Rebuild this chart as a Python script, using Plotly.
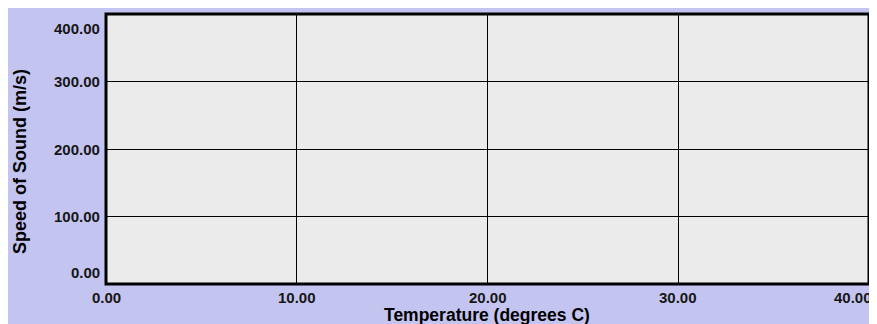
import plotly.graph_objects as go

# ---- data (empty chart: only axes) ----
x_ticks = [0, 10, 20, 30, 40]
x_tick_labels = ["0.00", "10.00", "20.00", "30.00", "40.00"]
y_ticks = [0, 100, 200, 300, 400]
y_tick_labels = ["0.00", "100.00", "200.00", "300.00", "400.00"]
x_title = "Temperature (degrees C)"
y_title = "Speed of Sound (m/s)"

# page has an 8px body margin, so the figure starts at (8, 8)
OFF = 8
W, H = 877 - OFF, 324 - OFF
L, R, T, B = 106 - OFF, 8, 14 - OFF, 40
pw, ph = W - L - R, H - T - B

def px_x(p):  # page pixel -> paper x
    return (p - OFF - L) / pw

def px_y(p):  # page pixel -> paper y
    return (H - B - (p - OFF)) / ph

LAVENDER = "#c4c4f1"
PLOTBG = "#ebebeb"
FONT = "Arial, Liberation Sans, sans-serif"

fig = go.Figure()
fig.add_trace(go.Scatter(x=[], y=[], mode="markers", showlegend=False))

annotations = []
for i, (v, t) in enumerate(zip(x_ticks, x_tick_labels)):
    a = dict(x=v, xref="x", y=0, yref="paper", text="<b>" + t + "</b>", showarrow=False,
             yanchor="middle", yshift=-13, xanchor="center", borderpad=0,
             font=dict(family=FONT, size=15, color="#161616"))
    if i == len(x_ticks) - 1:
        a.update(xanchor="right", xshift=4)
    annotations.append(a)

for i, (v, t) in enumerate(zip(y_ticks, y_tick_labels)):
    shift = 0
    if i == 0:
        shift = 12
    elif i == len(y_ticks) - 1:
        shift = -14
    annotations.append(dict(x=0, xref="paper", y=v, yref="y", text="<b>" + t + "</b>",
                            showarrow=False, xanchor="right", yanchor="middle",
                            xshift=-4, yshift=shift,
                            font=dict(family=FONT, size=15, color="#161616")))

annotations.append(dict(x=px_x(487), xref="paper", y=px_y(315), yref="paper",
                        text="<b>" + x_title + "</b>", showarrow=False,
                        xanchor="center", yanchor="middle", borderpad=0,
                        font=dict(family=FONT, size=17.5, color="#000")))
annotations.append(dict(x=px_x(20), xref="paper", y=px_y(162), yref="paper",
                        text="<b>" + y_title + "</b>", showarrow=False,
                        textangle=-90, xanchor="center", yanchor="middle",
                        font=dict(family=FONT, size=18, color="#000")))

shapes = [
    # plot frame
    dict(type="rect", xref="paper", yref="paper", x0=0, x1=1, y0=0, y1=1,
         line=dict(color="black", width=3), fillcolor="rgba(0,0,0,0)", layer="above"),
]

fig.update_layout(
    width=W, height=H,
    margin=dict(l=L, r=R, t=T, b=B, pad=0),
    paper_bgcolor=LAVENDER,
    plot_bgcolor=PLOTBG,
    showlegend=False,
    xaxis=dict(range=[0, 40], tickvals=x_ticks, showticklabels=False,
               showgrid=True, gridcolor="black", gridwidth=1, zeroline=False,
               showline=False, ticks="", fixedrange=True),
    yaxis=dict(range=[0, 400], tickvals=y_ticks, showticklabels=False,
               showgrid=True, gridcolor="black", gridwidth=1, zeroline=False,
               showline=False, ticks="", fixedrange=True),
    annotations=annotations,
    shapes=shapes,
)

fig.write_html("out.html", config={"displayModeBar": False},
               post_script="document.documentElement.style.overflow='hidden';"
                           "document.body.style.overflow='hidden';")
